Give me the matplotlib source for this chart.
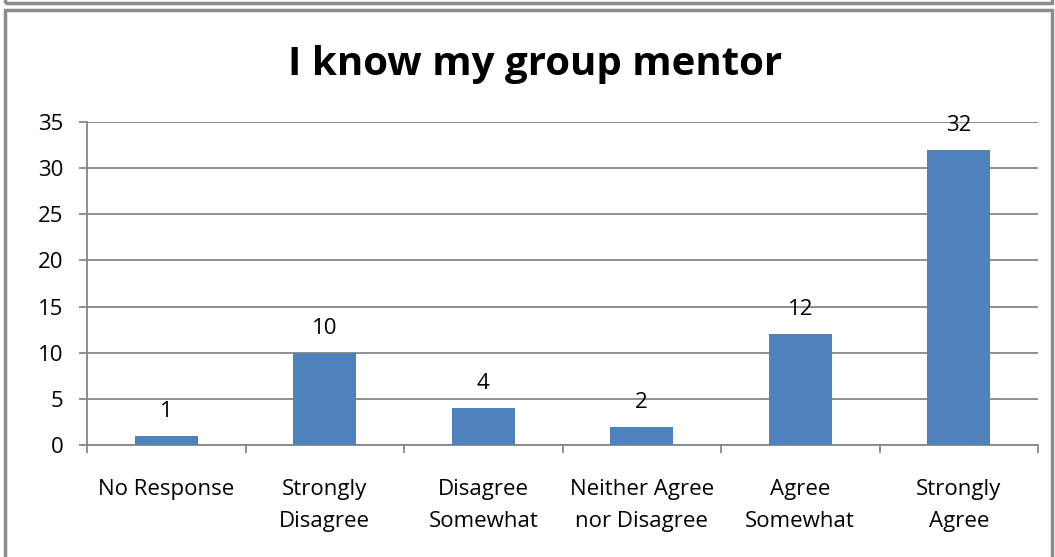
import numpy as np
from matplotlib import pyplot as plt
from matplotlib.patches import Rectangle

plt.rcParams['font.family'] = ['Open Sans', 'DejaVu Sans']

# survey answers for "I know my group mentor"
categories = ["No Response", "Strongly\nDisagree", "Disagree\nSomewhat",
              "Neither Agree\nnor Disagree", "Agree\nSomewhat", "Strongly\nAgree"]
counts = [1, 10, 4, 2, 12, 32]
yticks = [0, 5, 10, 15, 20, 25, 30, 35]

bar_color = "#4f81bd"
grid_color = "#868686"

fig = plt.figure(figsize=(10.55, 5.57), dpi=100)
ax = fig.add_axes([87/1055, 1-445/557, 951/1055, 323/557])

x = np.arange(len(counts))
ax.bar(x, counts, width=0.4, color=bar_color, zorder=3)
for xi, c in zip(x, counts):
    ax.annotate(str(c), (xi, c), xytext=(0, 10), textcoords="offset points",
                ha="center", va="bottom", fontsize=16, zorder=4)

ax.set_xlim(-0.5, len(counts) - 0.5)
ax.set_ylim(0, 35)
ax.set_yticks(yticks)
ax.set_yticklabels([str(v) for v in yticks], fontsize=16)
ax.yaxis.grid(True, color=grid_color, linewidth=1.3, zorder=0)
ax.tick_params(axis="y", length=6, width=1.3, color=grid_color, pad=11)

# category labels between boundary ticks
ax.set_xticks(np.arange(len(counts) + 1) - 0.5)
ax.set_xticklabels([])
ax.tick_params(axis="x", length=6, width=1.3, color=grid_color)
for xi, lab in zip(x, categories):
    ax.text(xi, -3.7, lab, ha="center", va="top", fontsize=16,
            linespacing=1.65, transform=ax.transData)

for s in ["top", "right"]:
    ax.spines[s].set_visible(False)
for s in ["left", "bottom"]:
    ax.spines[s].set_color(grid_color)
    ax.spines[s].set_linewidth(1.3)

fig.text(535/1055, 1-65/557, "I know my group mentor", ha="center", va="center",
         fontsize=29, fontweight="bold")

# outer chart frames
fig.patches.append(Rectangle((5/1055, -0.05), 1047/1055, 1-10/557+0.05,
                             transform=fig.transFigure, fill=False,
                             edgecolor="#8c8c8c", linewidth=2.5))
fig.patches.append(Rectangle((5/1055, 1-3/557), 1047/1055, 0.1,
                             transform=fig.transFigure, fill=False,
                             edgecolor="#8c8c8c", linewidth=2.5))

plt.savefig("out.png", dpi=100)
